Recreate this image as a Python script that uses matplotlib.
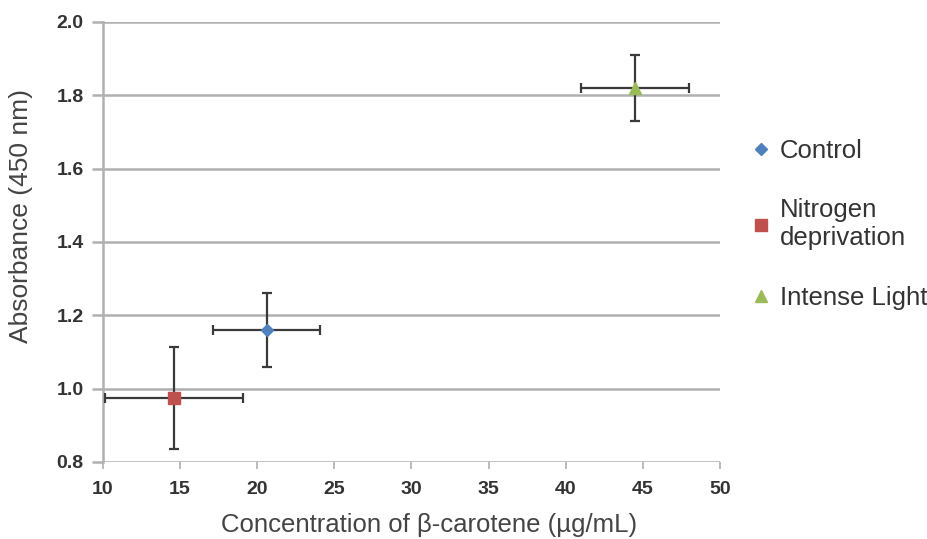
import matplotlib.pyplot as plt

plt.rcParams['font.family'] = ['Liberation Sans', 'DejaVu Sans']

# data
groups = ['Control', 'Nitrogen\ndeprivation', 'Intense Light']
conc = [20.6, 14.6, 44.5]
conc_err = [3.5, 4.5, 3.5]
absorb = [1.16, 0.975, 1.82]
absorb_err = [0.10, 0.14, 0.09]

markers = ['D', 's', '^']
colors = ['#4F81BD', '#C0504D', '#9BBB59']
sizes = [6, 9, 8]

fig = plt.figure(figsize=(9.28, 5.39), dpi=100)
ax = fig.add_axes([103 / 928, 1 - 462 / 539, (720 - 103) / 928, (462 - 22) / 539])

for i in range(len(groups)):
    ax.errorbar(conc[i], absorb[i], xerr=conc_err[i], yerr=absorb_err[i],
                fmt='none', ecolor='#3a3a3a', elinewidth=1.6, capsize=3.5,
                capthick=1.6, zorder=3)
    ax.plot(conc[i], absorb[i], linestyle='none', marker=markers[i],
            color=colors[i], markersize=sizes[i], label=groups[i], zorder=4)

ax.set_xlim(10, 50)
ax.set_ylim(0.8, 2.0)
ax.set_xticks(range(10, 51, 5))
ax.set_yticks([0.8, 1.0, 1.2, 1.4, 1.6, 1.8, 2.0])
ax.set_yticklabels(['0.8', '1.0', '1.2', '1.4', '1.6', '1.8', '2.0'])

ax.yaxis.grid(True, color='#b0b0b0', linewidth=1.8)
ax.set_axisbelow(True)
for s in ['top', 'right', 'bottom']:
    ax.spines[s].set_visible(False)
ax.spines['left'].set_color('#b0b0b0')
ax.spines['left'].set_linewidth(1.8)

ax.tick_params(axis='y', length=8, width=1.8, color='#b0b0b0', labelsize=14,
               labelcolor='#333333', pad=6)
ax.tick_params(axis='x', length=5, width=1.2, color='#b0b0b0', labelsize=14,
               labelcolor='#333333', pad=9)
for lbl in ax.get_xticklabels() + ax.get_yticklabels():
    lbl.set_fontweight('bold')

ax.set_xlabel('Concentration of β-carotene (µg/mL)', fontsize=18.5,
              color='#444444')
ax.set_ylabel('Absorbance (450 nm)', fontsize=19, color='#444444')
ax.xaxis.set_label_coords(0.528, -0.115)
ax.yaxis.set_label_coords(-0.113, 0.56)

ax.legend(loc='center left', bbox_to_anchor=(1.008, 0.54), frameon=False,
          fontsize=18.5, labelspacing=1.4, handletextpad=0.25, handlelength=1.0,
          labelcolor='#333333')

fig.savefig('out.png', dpi=100)
